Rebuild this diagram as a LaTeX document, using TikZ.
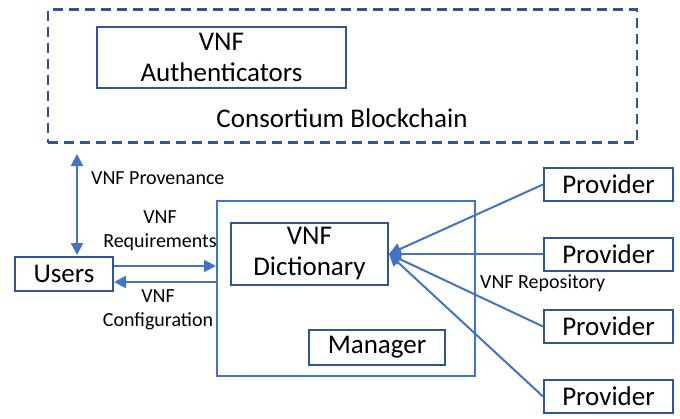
\documentclass[tikz,border=0pt]{standalone}
\usepackage{fontspec}
\setmainfont{Carlito}
\usetikzlibrary{arrows.meta}

\definecolor{linkblue}{HTML}{4472C4}
\definecolor{boxblue}{HTML}{2F5597}

\tikzset{
  box/.style={draw=boxblue, line width=2pt, fill=white, inner sep=0pt,
              font=\fontsize{27}{31}\selectfont, align=center},
  biglabel/.style={font=\fontsize{27}{31}\selectfont, align=center, inner sep=0pt},
  smalllabel/.style={font=\fontsize{20}{24}\selectfont, align=center, inner sep=0pt},
  link/.style={draw=linkblue, line width=2pt},
  tip/.style={-{Triangle[length=12pt,width=12pt]}},
}

\begin{document}
\begin{tikzpicture}[x=1pt,y=-1pt]
  \useasboundingbox (0,0) rectangle (680,418);

  % Consortium blockchain (dashed frame)
  \node[draw=boxblue, line width=2.2pt, dash pattern=on 10pt off 6pt,
        minimum width=589pt, minimum height=133pt, inner sep=0pt]
        (chain) at (342.5,76) {};
  \node[box, minimum width=249pt, minimum height=61pt] (auth) at (221.5,57.5)
        {VNF\\Authenticators};
  \node[biglabel] (chainlbl) at (342,118) {Consortium Blockchain};

  % Manager frame with dictionary and manager
  \node[draw=linkblue, line width=2pt, minimum width=258pt, minimum height=175pt,
        inner sep=0pt] (outer) at (346,288.5) {};
  \node[box, minimum width=157pt, minimum height=62pt] (dict) at (309.5,254)
        {VNF\\Dictionary};
  \node[box, minimum width=136pt, minimum height=35pt] (mgr) at (377,347.5) {Manager};

  % Users
  \node[box, minimum width=98pt, minimum height=34pt] (users) at (64,274) {Users};

  % Providers
  \node[box, minimum width=129pt, minimum height=33pt] (p1) at (608.5,184.5) {Provider};
  \node[box, minimum width=129pt, minimum height=33pt] (p2) at (608.5,254) {Provider};
  \node[box, minimum width=129pt, minimum height=33pt] (p3) at (608.5,326.5) {Provider};
  \node[box, minimum width=129pt, minimum height=33pt] (p4) at (608.5,396.5) {Provider};

  % Provenance link between users and the chain
  \coordinate (provtop) at (77,154);
  \coordinate (provbot) at (77,255);
  \draw[link, {Triangle[length=12pt,width=12pt]}-{Triangle[length=12pt,width=12pt]}]
       (provtop) -- (provbot);
  \node[smalllabel, anchor=west] (provlbl) at (91,178) {VNF Provenance};

  % Requirements and configuration
  \draw[link, tip] ([yshift=8pt]users.east) -- ([yshift=8pt]users.east -| outer.west);
  \draw[link, tip] ([yshift=-8pt]users.east -| outer.west) -- ([yshift=-8pt]users.east);
  \node[smalllabel] (reqlbl) at (160,231) {VNF\\Requirements};
  \node[smalllabel] (conflbl) at (158,310) {VNF\\Configuration};

  % Repository links
  \foreach \p in {p1,p2,p3,p4}
    \draw[link, tip] (\p.west) -- (dict.east);
  \node[smalllabel, anchor=west] (repolbl) at (480,283) {VNF Repository};
\end{tikzpicture}
\end{document}
